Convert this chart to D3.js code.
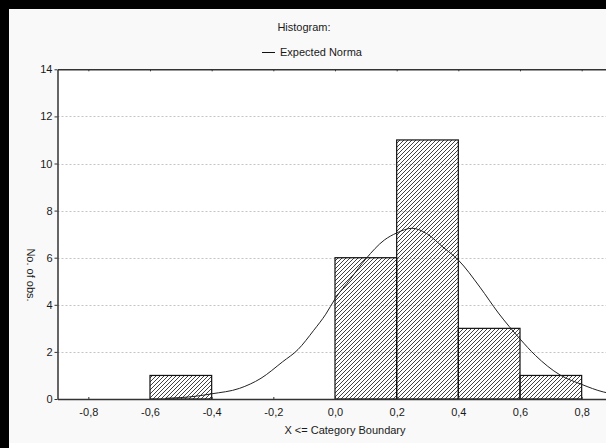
<!DOCTYPE html>
<html>
<head>
<meta charset="utf-8">
<script src="https://cdn.jsdelivr.net/npm/d3@7"></script>
<style>
  html, body { margin: 0; padding: 0; background: #f9f9f9; overflow: hidden; }
  svg { display: block; }
  text { font-family: "Liberation Sans", Arial, sans-serif; font-size: 11px; fill: #1a1a1a; }
</style>
</head>
<body>
<div id="chart"></div>
<script>
// ============================================================
// Data
// ============================================================
const binStarts = [-0.6, 0.0, 0.2, 0.4, 0.6];
const binEnds   = [-0.4, 0.2, 0.4, 0.6, 0.8];
const binCounts = [1, 6, 11, 3, 1];

// expected normal curve
const curveX = [-0.55, -0.45, -0.40, -0.31, -0.24, -0.17, -0.12, -0.07, -0.03, 0.00, 0.05, 0.10, 0.16, 0.20, 0.25, 0.30, 0.35, 0.40, 0.47, 0.53, 0.60, 0.65, 0.73, 0.80, 0.87, 0.90];
const curveY = [0.03, 0.12, 0.22, 0.45, 0.88, 1.58, 2.10, 2.90, 3.60, 4.25, 5.10, 5.95, 6.75, 7.05, 7.25, 7.00, 6.45, 5.90, 4.75, 3.65, 2.55, 1.85, 1.02, 0.62, 0.30, 0.22];

const xTicks = [-0.8, -0.6, -0.4, -0.2, 0.0, 0.2, 0.4, 0.6, 0.8];
const yTicks = [0, 2, 4, 6, 8, 10, 12, 14];

const titleText = 'Histogram:';
const legendText = 'Expected Norma';
const xLabel = 'X <= Category Boundary';
const yLabel = 'No. of obs.';

// ============================================================
// Layout
// ============================================================
const W = 606, H = 448;
const plot = { left: 57.5, right: 612.5, top: 69.3, bottom: 399 };

const svg = d3.select('#chart').append('svg')
    .attr('width', W)
    .attr('height', H)
    .style('overflow', 'hidden');

// outer frame: light panel with black border on top and left, white strip below
svg.append('rect').attr('x', 0).attr('y', 0).attr('width', W + 40).attr('height', H).attr('fill', '#f9f9f9');
svg.append('rect').attr('x', 0).attr('y', 443).attr('width', W + 40).attr('height', 10).attr('fill', '#fff');
svg.append('rect').attr('x', 0).attr('y', 0).attr('width', W + 40).attr('height', 9).attr('fill', '#000');
svg.append('rect').attr('x', 0).attr('y', 0).attr('width', 9).attr('height', H).attr('fill', '#000');

const x = d3.scaleLinear().domain([-0.9, 0.9]).range([plot.left, plot.right]);
const y = d3.scaleLinear().domain([0, 14]).range([plot.bottom, plot.top]);

// plot background
svg.append('rect')
    .attr('x', plot.left).attr('y', plot.top)
    .attr('width', plot.right - plot.left).attr('height', plot.bottom - plot.top)
    .attr('fill', '#fff');

// hatch pattern
const defs = svg.append('defs');
defs.append('pattern')
    .attr('id', 'hatch')
    .attr('patternUnits', 'userSpaceOnUse')
    .attr('width', 4).attr('height', 4)
  .append('path')
    .attr('d', 'M-1,1 l2,-2 M0,4 l4,-4 M3,5 l2,-2')
    .attr('stroke', '#111')
    .attr('stroke-width', 0.8);

// grid lines
svg.append('g')
    .selectAll('line')
    .data(yTicks.filter(d => d > 0 && d < 14))
    .join('line')
    .attr('x1', plot.left).attr('x2', plot.right)
    .attr('y1', d => Math.round(y(d)) + 0.5).attr('y2', d => Math.round(y(d)) + 0.5)
    .attr('stroke', '#c4c4c4')
    .attr('stroke-dasharray', '2,2');

// bars
const bins = binStarts.map((s, i) => ({ x0: s, x1: binEnds[i], n: binCounts[i] }));
svg.append('g')
    .selectAll('rect')
    .data(bins)
    .join('rect')
    .attr('x', d => x(d.x0))
    .attr('y', d => y(d.n))
    .attr('width', d => x(d.x1) - x(d.x0))
    .attr('height', d => y(0) - y(d.n))
    .attr('fill', 'url(#hatch)')
    .attr('stroke', '#111')
    .attr('stroke-width', 1.2);

// expected normal curve
const pts = curveX.map((v, i) => [v, curveY[i]]);
svg.append('path')
    .datum(pts)
    .attr('fill', 'none')
    .attr('stroke', '#222')
    .attr('stroke-width', 1)
    .attr('d', d3.line().x(d => x(d[0])).y(d => y(d[1])).curve(d3.curveMonotoneX));

// axes
const fmt = v => d3.format('.1f')(v).replace('.', ',').replace('−', '-');

svg.append('g')
    .attr('transform', `translate(0,${plot.bottom})`)
    .call(d3.axisBottom(x).tickValues(xTicks).tickFormat(fmt).tickSizeInner(-2).tickSizeOuter(0).tickPadding(9))
    .call(g => g.select('.domain').attr('stroke', '#333').attr('stroke-width', 1.5))
    .call(g => g.selectAll('line').attr('stroke', '#333'))
    .call(g => g.selectAll('text').attr('font-size', 11).attr('fill', '#1a1a1a').attr('font-family', '"Liberation Sans", Arial, sans-serif'));

svg.append('g')
    .attr('transform', `translate(0,${plot.top})`)
    .call(d3.axisTop(x).tickValues(xTicks).tickFormat('').tickSizeInner(-2).tickSizeOuter(0))
    .call(g => g.select('.domain').attr('stroke', '#333').attr('stroke-width', 1.5))
    .call(g => g.selectAll('line').attr('stroke', '#333'));

svg.append('g')
    .attr('transform', `translate(${plot.left},0)`)
    .call(d3.axisLeft(y).tickValues(yTicks).tickSizeInner(3).tickSizeOuter(0).tickPadding(2))
    .call(g => g.select('.domain').attr('stroke', '#333').attr('stroke-width', 1.5))
    .call(g => g.selectAll('line').attr('stroke', '#333'))
    .call(g => g.selectAll('text').attr('font-size', 11).attr('fill', '#1a1a1a').attr('font-family', '"Liberation Sans", Arial, sans-serif'));

// titles
svg.append('text')
    .attr('x', 304).attr('y', 31)
    .attr('text-anchor', 'middle')
    .text(titleText);

svg.append('line')
    .attr('x1', 262).attr('x2', 275)
    .attr('y1', 52.5).attr('y2', 52.5)
    .attr('stroke', '#111');
svg.append('text')
    .attr('x', 280).attr('y', 56)
    .text(legendText);

svg.append('text')
    .attr('x', 345).attr('y', 434)
    .attr('text-anchor', 'middle')
    .text(xLabel);

svg.append('text')
    .attr('transform', 'translate(27,275) rotate(90)')
    .attr('text-anchor', 'middle')
    .text(yLabel);
</script>
</body>
</html>
